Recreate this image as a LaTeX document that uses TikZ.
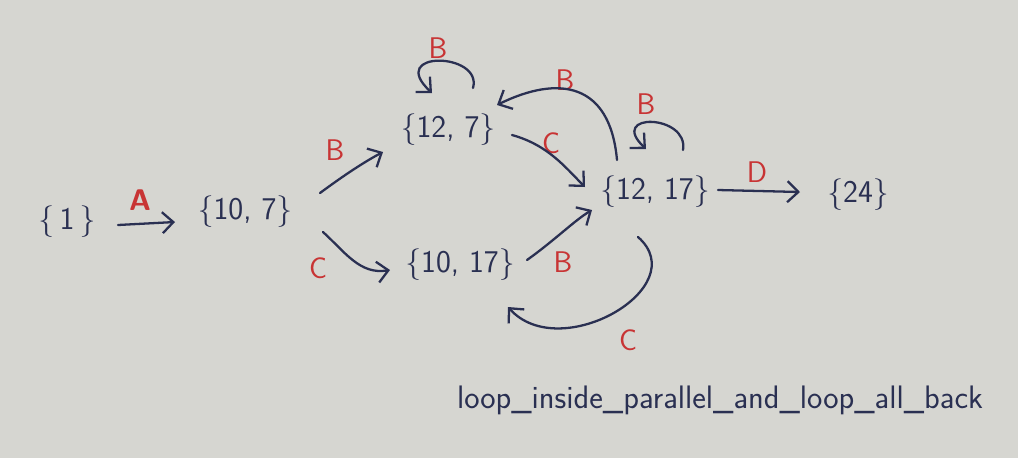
\documentclass[tikz,border=0pt]{standalone}
\usetikzlibrary{arrows.meta,calc}
\definecolor{paper}{RGB}{214,214,209}
\definecolor{ink}{RGB}{42,48,82}
\definecolor{redink}{RGB}{200,52,52}
\tikzset{
  state/.style={text=ink, font=\sffamily\fontsize{18}{20}\selectfont, inner sep=0pt},
  lbl/.style={text=redink, font=\sffamily\fontsize{17}{19}\selectfont, inner sep=0pt},
  conn/.style={draw=ink, line width=1.3pt, line cap=round, -{Straight Barb[length=2.2mm,width=4.2mm,line width=1.3pt]}},
  note/.style={text=ink, font=\sffamily\fontsize{18.5}{20}\selectfont, inner sep=0pt}
}
\begin{document}
\begin{tikzpicture}[x=0.02cm,y=-0.02cm]
\fill[paper] (0,0) rectangle (1018,458);
\useasboundingbox (0,0) rectangle (1018,458);
% states
\node[state] (n1)    at (67,222)  {\{\,1\,\}};
\node[state] (n107)  at (245,212) {\{10, 7\}};
\node[state] (n127)  at (448,130) {\{12, 7\}};
\node[state] (n1017) at (460,265) {\{10, 17\}};
\node[state] (n1217) at (655,192) {\{12, 17\}};
\node[state] (n24)   at (858,195) {\{24\}};
% labels
\node[lbl, font=\sffamily\bfseries\fontsize{17}{19}\selectfont] (lA) at (140,200) {A};
\node[lbl] (lB1) at (335,150) {B};
\node[lbl] (lC1) at (318,268) {C};
\node[lbl] (lC2) at (551,143) {C};
\node[lbl] (lB2) at (563,262) {B};
\node[lbl] (lB3) at (565,80)  {B};
\node[lbl] (lC3) at (628,340) {C};
\node[lbl] (lB4) at (438,48)  {B};
\node[lbl] (lB5) at (646,104) {B};
\node[lbl] (lD)  at (757,172) {D};
% connectors
\draw[conn] ($(n1)+(51,3)$) -- ($(n107)+(-70,10)$);
\draw[conn] ($(n107)+(75,-19)$) .. controls ($(n107)+(98,-36)$) and ($(n127)+(-84,32)$) .. ($(n127)+(-65,22)$);
\draw[conn] ($(n107)+(78,20)$) .. controls ($(n107)+(100,40)$) and ($(n1017)+(-100,10)$) .. ($(n1017)+(-70,5)$);
\draw[conn] ($(n127)+(64,5)$) .. controls ($(n127)+(100,15)$) and ($(n1217)+(-90,-25)$) .. ($(n1217)+(-70,-5)$);
\draw[conn] ($(n1017)+(67,-5)$) .. controls ($(n1017)+(95,-25)$) and ($(n1217)+(-80,28)$) .. ($(n1217)+(-63,18)$);
\draw[conn] ($(n1217)+(-38,-32)$) .. controls ($(n1217)+(-45,-110)$) and ($(n127)+(110,-55)$) .. ($(n127)+(49,-25)$);
\draw[conn] ($(n1217)+(-17,45)$) .. controls ($(n1217)+(40,95)$) and ($(n1017)+(100,100)$) .. ($(n1017)+(48,42)$);
\draw[conn] ($(n127)+(25,-42)$) .. controls ($(n127)+(35,-78)$) and ($(n127)+(-62,-80)$) .. ($(n127)+(-16,-37)$);
\draw[conn] ($(n1217)+(28,-42)$) .. controls ($(n1217)+(34,-78)$) and ($(n1217)+(-48,-80)$) .. ($(n1217)+(-9,-43)$);
\draw[conn] ($(n1217)+(63,-2)$) -- ($(n24)+(-58,-3)$);
% note
\node[note] (note) at (720,400) {loop\_inside\_parallel\_and\_loop\_all\_back};
\end{tikzpicture}
\end{document}
